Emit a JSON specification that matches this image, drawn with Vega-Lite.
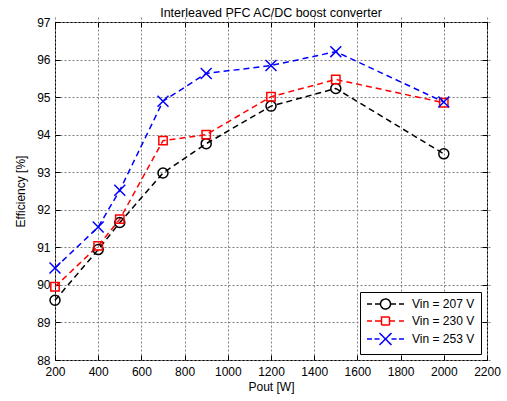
{
  "$schema": "https://vega.github.io/schema/vega-lite/v6.json",
  "width": 432,
  "height": 338,
  "autosize": {"type": "none"},
  "padding": {"left": 55, "top": 22, "right": 20, "bottom": 41},
  "background": "white",
  "title": {"text": "Interleaved PFC AC/DC boost converter", "fontSize": 12.5, "fontWeight": "normal", "font": "Liberation Sans", "color": "black", "offset": -3},
  "config": {
    "view": {"stroke": "black", "strokeWidth": 1},
    "axis": {
      "labelFont": "Liberation Sans", "labelFontSize": 12, "labelColor": "black", "labelFlush": false,
      "titleFont": "Liberation Sans", "titleFontSize": 12, "titleFontWeight": "normal", "titleColor": "black",
      "domain": false, "tickColor": "black", "tickSize": 5, "offset": -5, "labelPadding": 4,
      "grid": true, "gridColor": "#808080", "gridDash": [2, 2], "gridOpacity": 1, "gridWidth": 1
    },
    "legend": {
      "orient": "bottom-right", "offset": 6, "strokeColor": "black", "fillColor": "white",
      "padding": 6, "labelFont": "Liberation Sans", "labelFontSize": 12, "labelColor": "black",
      "symbolSize": 100, "symbolStrokeWidth": 1.5, "labelOffset": 34, "rowPadding": 2
    }
  },
  "data": {
    "values": [
      {"pout": 200, "eff": 89.59, "series": "Vin = 207 V"},
      {"pout": 400, "eff": 90.94, "series": "Vin = 207 V"},
      {"pout": 500, "eff": 91.66, "series": "Vin = 207 V"},
      {"pout": 700, "eff": 92.98, "series": "Vin = 207 V"},
      {"pout": 900, "eff": 93.76, "series": "Vin = 207 V"},
      {"pout": 1200, "eff": 94.76, "series": "Vin = 207 V"},
      {"pout": 1500, "eff": 95.23, "series": "Vin = 207 V"},
      {"pout": 2000, "eff": 93.49, "series": "Vin = 207 V"},
      {"pout": 200, "eff": 89.95, "series": "Vin = 230 V"},
      {"pout": 400, "eff": 91.04, "series": "Vin = 230 V"},
      {"pout": 500, "eff": 91.75, "series": "Vin = 230 V"},
      {"pout": 700, "eff": 93.84, "series": "Vin = 230 V"},
      {"pout": 900, "eff": 94.0, "series": "Vin = 230 V"},
      {"pout": 1200, "eff": 95.01, "series": "Vin = 230 V"},
      {"pout": 1500, "eff": 95.47, "series": "Vin = 230 V"},
      {"pout": 2000, "eff": 94.85, "series": "Vin = 230 V"},
      {"pout": 200, "eff": 90.45, "series": "Vin = 253 V"},
      {"pout": 400, "eff": 91.54, "series": "Vin = 253 V"},
      {"pout": 500, "eff": 92.52, "series": "Vin = 253 V"},
      {"pout": 700, "eff": 94.89, "series": "Vin = 253 V"},
      {"pout": 900, "eff": 95.63, "series": "Vin = 253 V"},
      {"pout": 1200, "eff": 95.84, "series": "Vin = 253 V"},
      {"pout": 1500, "eff": 96.21, "series": "Vin = 253 V"},
      {"pout": 2000, "eff": 94.87, "series": "Vin = 253 V"}
    ]
  },
  "resolve": {"axis": {"x": "independent", "y": "independent"}},
  "layer": [
    {
      "mark": {"type": "line", "strokeDash": [6, 4], "strokeWidth": 1.5},
      "encoding": {
        "x": {"field": "pout", "type": "quantitative", "scale": {"domain": [200, 2200], "nice": false},
              "axis": {"orient": "bottom", "title": "Pout [W]", "values": [200,400,600,800,1000,1200,1400,1600,1800,2000,2200], "format": "d", "labelPadding": 6, "titlePadding": 4}},
        "y": {"field": "eff", "type": "quantitative", "scale": {"domain": [88, 97], "nice": false, "zero": false},
              "axis": {"orient": "left", "title": "Efficiency [%]", "values": [88,89,90,91,92,93,94,95,96,97], "labelPadding": 5, "titlePadding": 9}},
        "color": {"field": "series", "type": "nominal",
                  "scale": {"domain": ["Vin = 207 V", "Vin = 230 V", "Vin = 253 V"], "range": ["#000000", "#ff0000", "#0000ff"]},
                  "legend": {"title": null,
                    "encode": {"symbols": {"update": {
                      "fill": {"value": "transparent"},
                      "strokeWidth": {"value": 1.5},
                      "strokeDash": {"value": [1, 0]},
                      "shape": {"signal": "datum.value === 'Vin = 207 V' ? 'M-1,0H0M0.6,0H1.7M1.7,0A1,1 0 1,0 3.7,0A1,1 0 1,0 1.7,0M3.7,0H4.8M5.4,0H6.4' : datum.value === 'Vin = 230 V' ? 'M-1,0H0M0.6,0H1.9M1.9,-0.8H3.5V0.8H1.9ZM3.5,0H4.6M5.4,0H6.4' : 'M-1,0H0M0.5,0H1.5M1.5,-1.2L3.9,1.2M1.5,1.2L3.9,-1.2M3.9,0H4.9M5.4,0H6.4'"}
                    }}}}}
      }
    },
    {
      "transform": [{"filter": "datum.series === 'Vin = 207 V'"}],
      "mark": {"type": "point", "shape": "circle", "size": 100, "filled": false, "strokeWidth": 1.5, "opacity": 1},
      "encoding": {
        "x": {"field": "pout", "type": "quantitative", "axis": null},
        "y": {"field": "eff", "type": "quantitative", "axis": null},
        "color": {"field": "series", "type": "nominal"}
      }
    },
    {
      "transform": [{"filter": "datum.series === 'Vin = 230 V'"}],
      "mark": {"type": "point", "shape": "square", "size": 70, "filled": false, "strokeWidth": 1.5, "opacity": 1},
      "encoding": {
        "x": {"field": "pout", "type": "quantitative", "axis": null},
        "y": {"field": "eff", "type": "quantitative", "axis": null},
        "color": {"field": "series", "type": "nominal"}
      }
    },
    {
      "transform": [{"filter": "datum.series === 'Vin = 253 V'"}],
      "mark": {"type": "point", "shape": "M-1,-1L1,1M-1,1L1,-1", "size": 120, "filled": false, "strokeWidth": 1.5, "opacity": 1},
      "encoding": {
        "x": {"field": "pout", "type": "quantitative", "axis": null},
        "y": {"field": "eff", "type": "quantitative", "axis": null},
        "color": {"field": "series", "type": "nominal"}
      }
    },
    {
      "mark": {"type": "point", "opacity": 0},
      "encoding": {
        "x": {"field": "pout", "type": "quantitative",
              "axis": {"orient": "top", "labels": false, "title": null, "grid": false, "values": [200,400,600,800,1000,1200,1400,1600,1800,2000,2200]}},
        "y": {"field": "eff", "type": "quantitative",
              "axis": {"orient": "right", "labels": false, "title": null, "grid": false, "values": [88,89,90,91,92,93,94,95,96,97]}}
      }
    }
  ]
}
